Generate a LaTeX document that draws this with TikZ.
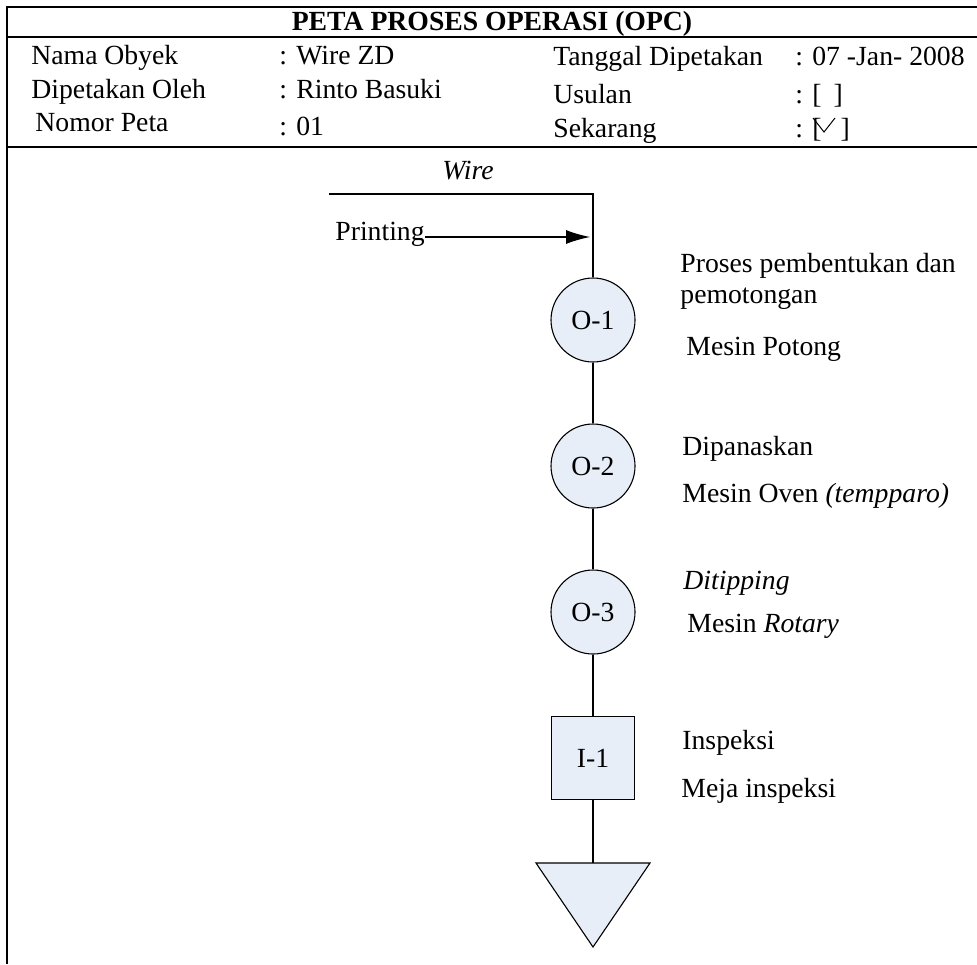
\documentclass[tikz,border=0pt]{standalone}
\usepackage{fontspec}
\setmainfont{Liberation Serif}
\usetikzlibrary{arrows.meta}
\definecolor{opfill}{RGB}{232,238,248}
\begin{document}
\begin{tikzpicture}[x=0.5pt,y=-0.5pt,
  every node/.style={font=\fontsize{13.85}{16}\selectfont},
  lbl/.style={anchor=base west,inner sep=0pt},
  frame/.style={line width=1pt},
  flow/.style={line width=0.55pt},
  opnode/.style={circle,draw,fill=opfill,minimum size=42pt,inner sep=0pt,line width=0.55pt},
  insnode/.style={rectangle,draw,fill=opfill,minimum size=41.5pt,inner sep=0pt,line width=0.55pt}]
\useasboundingbox (0,0) rectangle (977,964);

% outer frame and header rules
\draw[frame] (977,7) -- (7,7) -- (7,964);
\draw[frame] (7,37) -- (977,37);
\draw[frame] (7,147) -- (977,147);

% header
\node[anchor=base,inner sep=0pt,font=\fontsize{13.85}{16}\selectfont\bfseries] (title) at (492,30) {PETA PROSES OPERASI (OPC)};
\node[lbl] (nama)  at (31,64)  {Nama Obyek};
\node[lbl] (namaV) at (279,64) {: Wire ZD};
\node[lbl] (oleh)  at (31,98)  {Dipetakan Oleh};
\node[lbl] (olehV) at (279,98) {: Rinto Basuki};
\node[lbl] (nomor) at (35,131) {Nomor Peta};
\node[lbl] (nomorV) at (279,135) {: 01};
\node[lbl] (tgl)   at (553,65)  {Tanggal Dipetakan};
\node[lbl] (tglV)  at (795,65)  {: 07 -Jan- 2008};
\node[lbl] (usul)  at (553,103) {Usulan};
\node[lbl] (usulV) at (795,103) {: [\hspace{6pt}]};
\node[lbl] (sek)   at (553,137) {Sekarang};
\node[lbl] (sekV)  at (795,137) {: [\hspace{9.5pt}]};
% tick mark inside the "Sekarang" box
\draw[line width=0.5pt] (813,118) -- (824,132) -- (835,118);

% process flow
\node[lbl] (wire) at (442,179) {\itshape Wire};
\coordinate (wireL) at (329,194);
\coordinate (wireR) at (593,194);
\node[lbl] (printing) at (335,240) {Printing};
\coordinate (printEnd) at (590,237);

\node[opnode] (o1) at (593,320) {O-1};
\node[opnode] (o2) at (593,466) {O-2};
\node[opnode] (o3) at (593,612) {O-3};
\node[insnode] (i1) at (593,758) {I-1};
\coordinate (stTop) at (593,863);
\draw[flow,fill=opfill] (536,863) -- (650,863) -- (593,947) -- cycle;

\draw[flow] (wireL) -- (wireR) -- (o1);
\draw[flow,-{Latex[length=12pt,width=7pt]}] ([yshift=1.5pt]printing.base east) -- (printEnd);
\draw[flow] (o1) -- (o2);
\draw[flow] (o2) -- (o3);
\draw[flow] (o3) -- (i1);
\draw[flow] (i1) -- (stTop);

% step descriptions
\node[lbl] (o1a) at (680,272) {Proses pembentukan dan};
\node[lbl] (o1b) at (680,303) {pemotongan};
\node[lbl] (o1c) at (686,355) {Mesin Potong};
\node[lbl] (o2a) at (682,455) {Dipanaskan};
\node[lbl] (o2b) at (682,502) {Mesin Oven \textit{(tempparo)}};
\node[lbl] (o3a) at (683,589) {\textit{Ditipping}};
\node[lbl] (o3b) at (687,632) {Mesin \textit{Rotary}};
\node[lbl] (i1a) at (682,749) {Inspeksi};
\node[lbl] (i1b) at (681,797) {Meja inspeksi};
\end{tikzpicture}
\end{document}
